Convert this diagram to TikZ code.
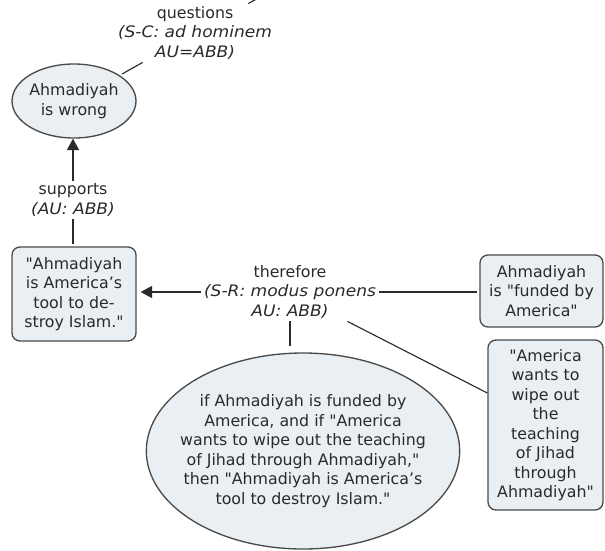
\documentclass[tikz,border=0pt]{standalone}
\usepackage{fontspec}
\setmainfont{DejaVu Sans}[Ligatures=TeXOff, ItalicFeatures={FakeStretch=1.08}]
\usetikzlibrary{shapes.geometric,arrows.meta}
\definecolor{nodefill}{HTML}{E9EFF3}
\definecolor{nodeline}{HTML}{4A4A4A}
\definecolor{ink}{HTML}{2A2A2A}
\tikzset{
  every node/.style={font=\fontsize{11.85}{14.6}\selectfont, text=ink, align=center},
  concept/.style={draw=nodeline, fill=nodefill, line width=1pt, inner sep=0pt},
  roundbox/.style={concept, rectangle, rounded corners=6pt},
  oval/.style={concept, ellipse},
  linklabel/.style={inner sep=2pt},
  conn/.style={draw=ink, line width=0.85pt},
  arr/.style={conn, -{Triangle[length=8.5pt,width=9pt]}},
}
\begin{document}
\begin{tikzpicture}[x=0.75pt,y=-0.75pt]
\useasboundingbox (0,0) rectangle (605,550);
% concepts
\node[oval, inner xsep=-4pt, minimum width=93pt, minimum height=55.5pt] (wrong) at (74,101) {Ahmadiyah\\is wrong};
\node[roundbox, minimum width=93pt, minimum height=70.5pt] (lbox) at (74,294) {"Ahmadiyah\\is America’s\\tool to de-\\stroy Islam."};
\node[roundbox, minimum width=92.25pt, minimum height=54pt] (rbox1) at (541.5,291) {Ahmadiyah\\is "funded by\\America"};
\node[roundbox, minimum width=86.25pt, minimum height=127.5pt] (rbox2) at (545.5,425) {"America\\wants to\\wipe out\\the\\teaching\\of Jihad\\through\\Ahmadiyah"};
\node[oval, inner xsep=-12pt, inner ysep=-4pt, minimum width=235pt, minimum height=147pt] (big) at (303,451) {if Ahmadiyah is funded by\\America, and if "America\\wants to wipe out the teaching\\of Jihad through Ahmadiyah,"\\then "Ahmadiyah is America’s\\tool to destroy Islam."};
% link labels
\node[linklabel] (ques) at (195,33) {questions\\\textit{(S-C: ad hominem}\\\textit{AU=ABB)}};
\node[linklabel] (sup) at (73,200) {supports\\\textit{(AU: ABB)}};
\node[linklabel] (ther) at (290,292) {therefore\\\textit{(S-R: modus ponens}\\\textit{AU: ABB)}};
\coordinate (qtop) at (262,-4);
% connectors
\draw[conn] (ques) -- (qtop);
\draw[conn, shorten >=2pt] (ques) -- (wrong);
\draw[arr] (sup.north) -- (sup.north |- wrong.south);
\draw[conn, shorten >=2pt] (sup.south) -- (sup.south |- lbox.north);
\draw[arr, shorten >=3pt] (ther.west) -- (ther.west -| lbox.east);
\draw[conn, shorten >=2pt] (ther.east) -- (ther.east -| rbox1.west);
\draw[conn, shorten >=5pt] (ther.south) -- (ther.south |- big.north);
\draw[conn] (ther) -- ([yshift=24pt]rbox2.west);
\end{tikzpicture}
\end{document}
